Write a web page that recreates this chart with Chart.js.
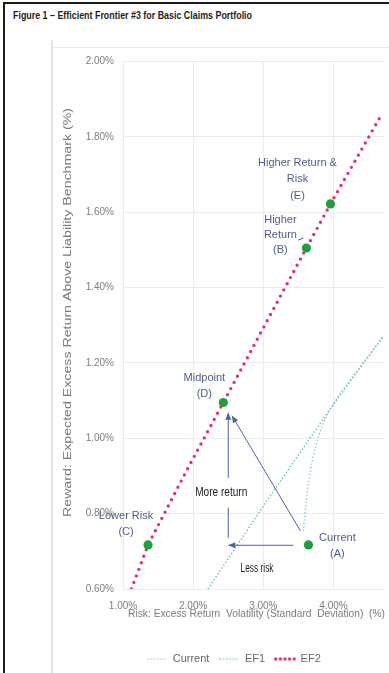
<!DOCTYPE html>
<html>
<head>
<meta charset="utf-8">
<script src="https://cdn.jsdelivr.net/npm/chart.js@4.4.1/dist/chart.umd.min.js"></script>
<style>
  html, body { margin: 0; padding: 0; background: #fff; overflow: hidden; width: 389px; height: 673px; }
  #frameTop { position: absolute; left: 3px; top: 2px; width: 386px; height: 2px; background: #1a1a1a; }
  #frameLeft { position: absolute; left: 3px; top: 2px; width: 2px; height: 671px; background: #1a1a1a; }
  #panelTop { position: absolute; left: 52px; top: 47px; width: 337px; height: 1px; background: #e8e8e8; }
  #panelLeft { position: absolute; left: 51px; top: 40px; width: 2px; height: 633px; background: #e4e4e4; }
  #title { position: absolute; left: 13px; top: 9px; font: bold 11.5px 'Liberation Sans Narrow', 'Liberation Sans', Arial, sans-serif;
           color: #1e1e1e; white-space: nowrap; transform-origin: 0 50%; }
  #wrap { position: absolute; left: 0; top: 0; width: 389px; height: 700px; }
</style>
</head>
<body>
<div id="frameTop"></div>
<div id="frameLeft"></div>
<div id="panelTop"></div>
<div id="panelLeft"></div>
<span id="title">Figure 1 – Efficient Frontier #3 for Basic Claims Portfolio</span>
<div id="wrap"><canvas id="chart" width="389" height="700"></canvas></div>
<script>
// Axis ticks (percent)
const xTicks = [1, 2, 3, 4];
const yTicks = [0.6, 0.8, 1.0, 1.2, 1.4, 1.6, 1.8, 2.0];

// Frontier curves: risk (x, %) and reward (y, %)
const currentX = [3.571, 3.629, 3.714, 3.843, 4.029, 4.243, 4.70];
const currentY = [0.754, 0.861, 0.954, 1.034, 1.100, 1.154, 1.268];
const ef1X = [2.21, 3.05, 3.85, 4.25, 4.70];
const ef1Y = [0.600, 0.834, 1.050, 1.155, 1.268];
const ef2X = [1.12, 1.357, 1.90, 2.43, 3.00, 3.614, 3.957, 4.35, 4.70];
const ef2Y = [0.600, 0.717, 0.912, 1.095, 1.293, 1.505, 1.622, 1.750, 1.864];

// Named portfolios
const portfolioCodes = ['A', 'B', 'C', 'D', 'E'];
const portfolioLabels = [
  ['Current', '(A)'],
  ['Higher', 'Return', '(B)'],
  ['Lower Risk', '(C)'],
  ['Midpoint', '(D)'],
  ['Higher Return &', 'Risk', '(E)']
];
const portfolioX = [3.643, 3.614, 1.357, 2.43, 3.957];
const portfolioY = [0.717, 1.505, 0.717, 1.095, 1.622];

// Arrow annotations (data units)
const lessRiskFrom = [3.43, 0.716], lessRiskTo = [2.50, 0.716];
const moreReturnFrom = [2.50, 0.736], moreReturnTo = [2.50, 1.068], moreReturnGap = [0.816, 0.895];
const diagonalFrom = [3.53, 0.754], diagonalTo = [2.553, 1.060];
const moreReturnAt = [2.40, 0.855], lessRiskAt = [2.91, 0.655];

const FONT = "'Liberation Sans', Arial, sans-serif";
const NARROW = "'Liberation Sans Narrow', 'Liberation Sans', Arial, sans-serif";

const toPts = (xs, ys) => xs.map((v, i) => ({ x: v, y: ys[i] }));

function dotStrip(color, w, h, r, gap) {
  const c = document.createElement('canvas');
  c.width = w; c.height = h;
  const g = c.getContext('2d');
  g.fillStyle = color;
  for (let px = r; px <= w - r + 0.01; px += gap) {
    g.beginPath(); g.arc(px, h / 2, r, 0, Math.PI * 2); g.fill();
  }
  return c;
}

const COL_CURRENT = '#94c6dc';
const COL_EF1 = '#6fc0a8';
const COL_EF2 = '#e2346a';
const COL_PT = '#1f9e3c';
const COL_LABEL = '#4e5d86';
const COL_ARROW = '#4a62ad';

const legendStrips = [
  dotStrip(COL_CURRENT, 20, 4, 0.8, 3.3),
  dotStrip(COL_EF1, 20, 4, 0.8, 3.3),
  dotStrip(COL_EF2, 22, 6, 1.7, 4.6)
];

function fitText(ctx, text, cx, cy, width, font, color, rotate) {
  ctx.save();
  ctx.font = font;
  const w = ctx.measureText(text).width;
  ctx.translate(cx, cy);
  if (rotate) ctx.rotate(-Math.PI / 2);
  ctx.scale(width / w, 1);
  ctx.fillStyle = color;
  ctx.textAlign = 'center';
  ctx.textBaseline = 'middle';
  ctx.fillText(text, 0, 0);
  ctx.restore();
}

function arrowHead(ctx, x0, y0, x1, y1) {
  const a = Math.atan2(y1 - y0, x1 - x0), L = 7, W = 3;
  ctx.beginPath();
  ctx.moveTo(x1, y1);
  ctx.lineTo(x1 - L * Math.cos(a) + W * Math.sin(a), y1 - L * Math.sin(a) - W * Math.cos(a));
  ctx.lineTo(x1 - L * Math.cos(a) - W * Math.sin(a), y1 - L * Math.sin(a) + W * Math.cos(a));
  ctx.closePath();
  ctx.fill();
}

// per-label placement: offset of first line from its point, and line gap
const labelPlacement = {
  A: { dx: 29, dy: -7, gap: 16 },
  B: { dx: -26, dy: -28, gap: 15 },
  C: { dx: -22, dy: -29, gap: 16.5 },
  D: { dx: -19, dy: -25, gap: 16.5 },
  E: { dx: -33, dy: -41, gap: 16.5 }
};

const annotate = {
  id: 'annotate',
  afterDraw(chart) {
    const { ctx, chartArea: ca, scales: { x, y } } = chart;
    const px = v => x.getPixelForValue(v), py = v => y.getPixelForValue(v);

    // axis titles
    fitText(ctx, 'Reward: Expected Excess Return Above Liability Benchmark (%)',
      ca.left - 55, ca.top + 251, 409, '11px ' + FONT, '#7a7a7a', true);
    fitText(ctx, 'Risk: Excess Return  Volatility (Standard  Deviation)  (%)',
      ca.left + 133.5, ca.bottom + 25, 257, '10.5px ' + FONT, '#7a7a7a', false);

    // arrows
    ctx.save();
    ctx.strokeStyle = COL_ARROW; ctx.fillStyle = COL_ARROW; ctx.lineWidth = 1;
    const seg = (a, b) => { ctx.beginPath(); ctx.moveTo(px(a[0]), py(a[1])); ctx.lineTo(px(b[0]), py(b[1])); ctx.stroke(); };
    seg(lessRiskFrom, lessRiskTo);
    arrowHead(ctx, px(lessRiskFrom[0]), py(lessRiskFrom[1]), px(lessRiskTo[0]), py(lessRiskTo[1]));
    seg(moreReturnFrom, [moreReturnFrom[0], moreReturnGap[0]]);
    seg([moreReturnFrom[0], moreReturnGap[1]], moreReturnTo);
    arrowHead(ctx, px(moreReturnFrom[0]), py(moreReturnFrom[1]), px(moreReturnTo[0]), py(moreReturnTo[1]));
    seg(diagonalFrom, diagonalTo);
    arrowHead(ctx, px(diagonalFrom[0]), py(diagonalFrom[1]), px(diagonalTo[0]), py(diagonalTo[1]));
    ctx.restore();

    fitText(ctx, 'More return', px(moreReturnAt[0]), py(moreReturnAt[1]), 52, '12px ' + NARROW, '#222', false);
    fitText(ctx, 'Less risk', px(lessRiskAt[0]), py(lessRiskAt[1]), 33, '12px ' + NARROW, '#222', false);

    // portfolio labels
    ctx.save();
    ctx.font = '11px ' + FONT;
    ctx.fillStyle = COL_LABEL;
    ctx.textAlign = 'center';
    ctx.textBaseline = 'middle';
    portfolioCodes.forEach((code, i) => {
      const p = labelPlacement[code];
      const cx = px(portfolioX[i]) + p.dx, cy = py(portfolioY[i]) + p.dy;
      portfolioLabels[i].forEach((t, k) => ctx.fillText(t, cx, cy + k * p.gap));
    });
    // short leader from "Return" toward B
    const bx = px(portfolioX[1]), by = py(portfolioY[1]);
    ctx.strokeStyle = COL_LABEL; ctx.lineWidth = 1;
    ctx.beginPath(); ctx.moveTo(bx - 8, by - 8); ctx.lineTo(bx - 3, by - 10); ctx.stroke();
    ctx.restore();
  }
};

new Chart(document.getElementById('chart'), {
  type: 'scatter',
  data: {
    datasets: [
      { label: 'Current', data: toPts(currentX, currentY), showLine: true, borderColor: COL_CURRENT,
        borderWidth: 1.5, borderDash: [1.4, 2.1], pointRadius: 0, fill: false, cubicInterpolationMode: 'monotone' },
      { label: 'EF1', data: toPts(ef1X, ef1Y), showLine: true, borderColor: COL_EF1,
        borderWidth: 1.5, borderDash: [1.4, 2.1], pointRadius: 0, fill: false },
      { label: 'EF2', data: toPts(ef2X, ef2Y), showLine: true, borderColor: COL_EF2,
        borderWidth: 3.4, borderDash: [0, 7], borderCapStyle: 'round', pointRadius: 0, fill: false },
      { label: 'Portfolios', data: toPts(portfolioX, portfolioY), showLine: false, order: -1,
        pointRadius: 4.6, pointBackgroundColor: COL_PT, pointBorderColor: COL_PT, pointBorderWidth: 0 }
    ]
  },
  options: {
    responsive: false,
    animation: false,
    devicePixelRatio: 1,
    layout: { padding: { left: 84, right: 5, top: 61.5, bottom: 25.5 } },
    plugins: {
      tooltip: { enabled: false },
      legend: {
        position: 'bottom',
        labels: {
          usePointStyle: true,
          pointStyleWidth: 20,
          padding: 10,
          color: '#666',
          font: { size: 11, family: FONT },
          generateLabels: (chart) => chart.data.datasets.slice(0, 3).map((ds, i) => ({
            text: ds.label, pointStyle: legendStrips[i], datasetIndex: i, hidden: false,
            fillStyle: 'transparent', strokeStyle: 'transparent', lineWidth: 0, fontColor: '#666'
          }))
        }
      }
    },
    scales: {
      x: {
        type: 'linear', min: 1, max: 4.72,
        afterBuildTicks: s => { s.ticks = xTicks.map(v => ({ value: v })); },
        afterFit: s => { s.height = 54.5; },
        grid: { color: '#ececec', drawTicks: false, lineWidth: 1 },
        border: { display: false },
        ticks: { padding: 11, color: '#7c7c7c', font: { size: 10, family: FONT },
                 callback: v => Number(v).toFixed(2) + '%' }
      },
      y: {
        type: 'linear', min: 0.6, max: 2.0,
        afterBuildTicks: s => { s.ticks = yTicks.map(v => ({ value: v })); },
        afterFit: s => { s.width = 39; },
        grid: { color: '#ececec', drawTicks: false, lineWidth: 1 },
        border: { display: false },
        ticks: { padding: 9, color: '#7c7c7c', font: { size: 10, family: FONT },
                 callback: v => Number(v).toFixed(2) + '%' }
      }
    }
  },
  plugins: [annotate]
});

// keep the heading on one measured width
const title = document.getElementById('title');
const tw = title.getBoundingClientRect().width;
title.style.transform = 'scaleX(' + (239 / tw) + ')';
</script>
</body>
</html>
